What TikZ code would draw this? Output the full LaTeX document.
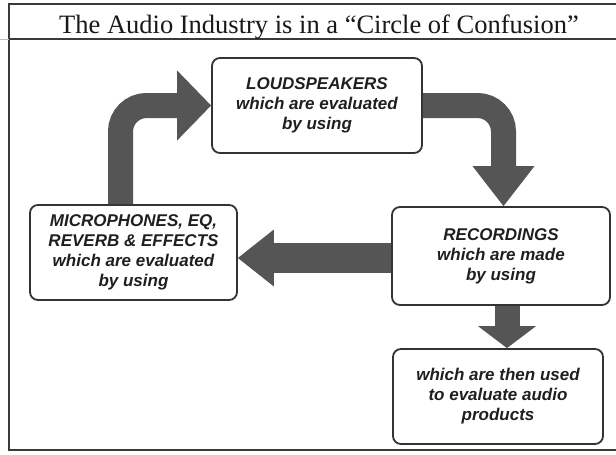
\documentclass[tikz,border=0pt]{standalone}
\usepackage{fontspec}
\setmainfont{Liberation Serif}
\newfontfamily\boxfont{Liberation Sans}
\usetikzlibrary{arrows.meta}
\definecolor{arrowgray}{HTML}{555555}
\definecolor{boxline}{HTML}{333333}
\definecolor{framegray}{HTML}{3A3A3A}
\begin{document}
\begin{tikzpicture}[x=1pt,y=-1pt,
  stepbox/.style={draw=boxline, line width=1.8pt, rounded corners=8pt, fill=white,
    align=center, inner sep=0pt, text=black!88,
    font=\boxfont\bfseries\itshape\fontsize{17}{20}\selectfont},
  bigarrow/.style={draw=arrowgray, line width=25pt, rounded corners=26pt},
  framerule/.style={draw=framegray, line width=1.4pt}]
\useasboundingbox (0,0) rectangle (616,455);
\fill[white] (0,0) rectangle (616,455);
% frame
\draw[framerule] (620,4) -- (9,4) -- (9,450) -- (620,450);
\draw[framerule] (9,39) -- (620,39);
\draw[black!25, line width=1pt] (0,39) -- (9,39);
\node[anchor=base, font=\fontsize{26.5}{30}\selectfont, text=black!90] (title) at (319,33)
  {The Audio Industry is in a “Circle of Confusion”};
% boxes
\node[stepbox, minimum width=210pt, minimum height=95pt] (ls) at (317,105.5)
  {LOUDSPEAKERS\\which are evaluated\\by using};
\node[stepbox, minimum width=207pt, minimum height=95pt] (mic) at (133.5,252.5)
  {MICROPHONES, EQ,\\REVERB \& EFFECTS\\which are evaluated\\by using};
\node[stepbox, minimum width=218pt, minimum height=98pt] (rec) at (501,256)
  {RECORDINGS\\which are made\\by using};
\node[stepbox, minimum width=210pt, minimum height=95pt] (out) at (498,396.5)
  {which are then used\\to evaluate audio\\products};
% arrows
\draw[bigarrow, -{Triangle[length=34pt,width=70pt,line width=0pt]}]
  ([xshift=-13pt]mic.north) |- (ls.west);
\draw[bigarrow, -{Triangle[length=40pt,width=62pt,line width=0pt]}]
  (ls.east) -| ([xshift=2.5pt]rec.north);
\draw[bigarrow, line width=30pt, -{Triangle[length=36pt,width=57pt,line width=0pt]}]
  ([yshift=-2pt]rec.west) -- ([yshift=-2pt]rec.west -| mic.east);
\draw[bigarrow, -{Triangle[length=22pt,width=58pt,line width=0pt]}]
  ([xshift=6pt]rec.south) -- ([xshift=6pt]rec.south |- out.north);
\end{tikzpicture}
\end{document}
